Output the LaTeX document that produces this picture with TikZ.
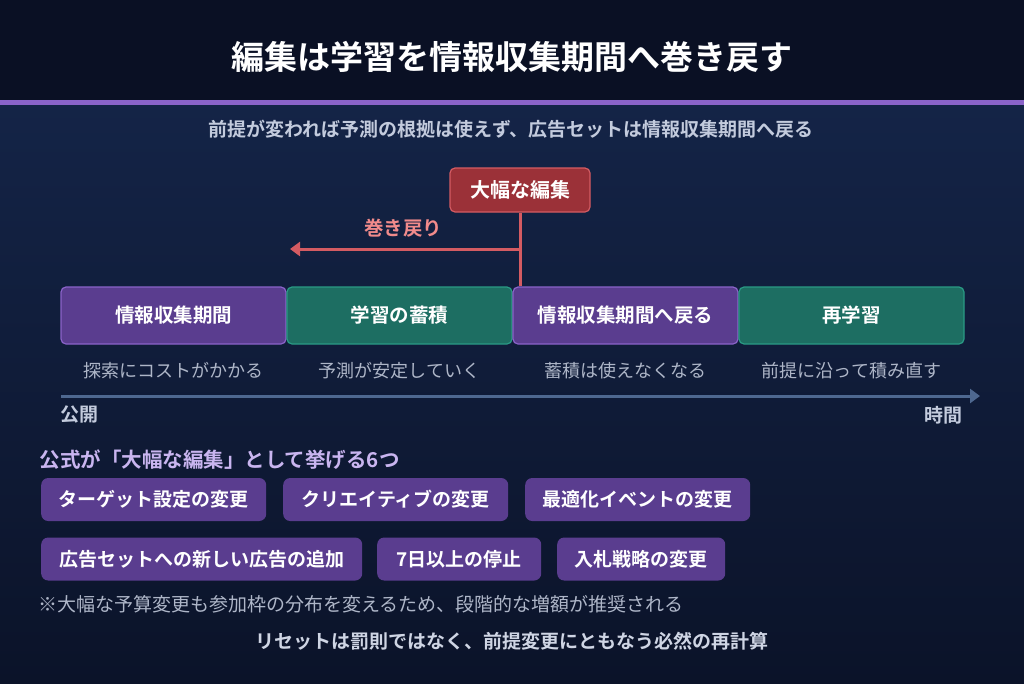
\documentclass[tikz,border=0pt]{standalone}
\usepackage{fontspec}
\setmainfont{Noto Sans CJK JP}[BoldFont={Noto Sans CJK JP Bold}]
\usetikzlibrary{arrows.meta}
\definecolor{bgtop}{HTML}{0A1024}
\definecolor{bgmid}{HTML}{142447}
\definecolor{bgbot}{HTML}{0B1329}
\definecolor{pline}{HTML}{8A63C9}
\definecolor{pfill}{HTML}{5A3D8F}
\definecolor{gfill}{HTML}{1D6E62}
\definecolor{gline}{HTML}{2A9A85}
\definecolor{rfill}{HTML}{9B3138}
\definecolor{rline}{HTML}{D45B62}
\definecolor{salmon}{HTML}{F28B8B}
\definecolor{subc}{HTML}{C3CBDD}
\definecolor{capc}{HTML}{AEB6C8}
\definecolor{axisc}{HTML}{4E6890}
\definecolor{lav}{HTML}{C9B5F0}
\begin{document}
\begin{tikzpicture}[x=1pt,y=-1pt,
  stage/.style={draw, line width=1.2pt, rounded corners=5pt, minimum width=225pt, minimum height=57pt, font=\bfseries\fontsize{19.5}{22}\selectfont, text=white},
  pst/.style={stage, fill=pfill, draw=pline},
  gst/.style={stage, fill=gfill, draw=gline},
  captxt/.style={text=capc, font=\fontsize{18}{20}\selectfont},
  chip/.style={fill=pfill, rounded corners=7pt, minimum height=43pt, font=\bfseries\fontsize{19}{21}\selectfont, text=white, anchor=west}]
\useasboundingbox (0,0) rectangle (1024,683);
\shade[top color=bgmid, bottom color=bgbot] (0,100) rectangle (1024,683);
\fill[bgtop] (0,0) rectangle (1024,100);
\fill[pline] (0,100) rectangle (1024,105);
\node[text=white, font=\bfseries\fontsize{33}{37}\selectfont] (title) at (512,57) {編集は学習を情報収集期間へ巻き戻す};
\node[text=subc, font=\bfseries\fontsize{19}{21}\selectfont] (sub) at (511,129) {前提が変われば予測の根拠は使えず、広告セットは情報収集期間へ戻る};
\node[pst] (s1) at (173.5,315.5) {情報収集期間};
\node[gst] (s2) at (399.5,315.5) {学習の蓄積};
\node[pst] (s3) at (625.5,315.5) {情報収集期間へ戻る};
\node[gst] (s4) at (851.5,315.5) {再学習};
\node[draw=rline, fill=rfill, line width=1.2pt, rounded corners=5pt, minimum width=140pt, minimum height=44pt, text=white, font=\bfseries\fontsize{20}{22}\selectfont] (edit) at (520,190) {大幅な編集};
\coordinate (j) at (520,249);
\coordinate (back) at (290,249);
\draw[rline, line width=3pt] (edit.south) -- (s3.north west -| edit.south);
\draw[rline, line width=3pt, -{Triangle[length=10pt,width=14pt]}] (j) -- (back);
\node[text=salmon, font=\bfseries\fontsize{19.5}{22}\selectfont] (rew) at (403,228) {巻き戻り};
\node[captxt] (c1) at (173.5,371) {探索にコストがかかる};
\node[captxt] (c2) at (399.5,371) {予測が安定していく};
\node[captxt] (c3) at (625.5,371) {蓄積は使えなくなる};
\node[captxt] (c4) at (851.5,371) {前提に沿って積み直す};
\coordinate (a0) at (61,396);
\coordinate (a1) at (980,396);
\draw[axisc, line width=3pt, -{Triangle[length=10pt,width=14pt]}] (a0) -- (a1);
\node[text=subc, font=\bfseries\fontsize{19}{21}\selectfont, anchor=west] (pub) at (57,415) {公開};
\node[text=subc, font=\bfseries\fontsize{19}{21}\selectfont, anchor=east] (time) at (966,415) {時間};
\node[text=lav, font=\bfseries\fontsize{20.5}{23}\selectfont, anchor=west] (lst) at (36,460) {公式が「大幅な編集」として挙げる6つ};
\node[chip, minimum width=225pt] (k1) at (41,499.5) {ターゲット設定の変更};
\node[chip, minimum width=225pt] (k2) at (283,499.5) {クリエイティブの変更};
\node[chip, minimum width=225pt] (k3) at (525,499.5) {最適化イベントの変更};
\node[chip, minimum width=321pt] (k4) at (41,559) {広告セットへの新しい広告の追加};
\node[chip, minimum width=164pt] (k5) at (377,559) {7日以上の停止};
\node[chip, minimum width=168pt] (k6) at (557,559) {入札戦略の変更};
\node[text=capc, font=\fontsize{19}{21}\selectfont, anchor=west] (note) at (35,604) {※大幅な予算変更も参加枠の分布を変えるため、段階的な増額が推奨される};
\node[text=subc!80!white, font=\bfseries\fontsize{19}{21}\selectfont] (fin) at (512,641) {リセットは罰則ではなく、前提変更にともなう必然の再計算};
\end{tikzpicture}
\end{document}
